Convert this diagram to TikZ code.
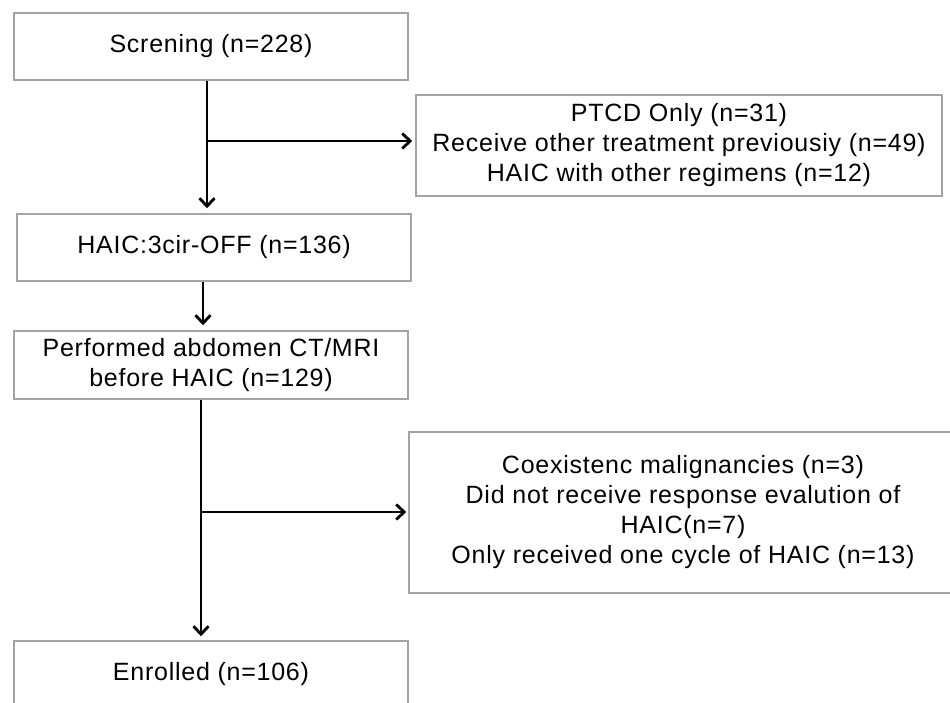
\documentclass[tikz,border=0pt]{standalone}
\usepackage{fontspec}
\setmainfont{Liberation Sans}[LetterSpace=3]
\usetikzlibrary{arrows.meta}
\begin{document}
\begin{tikzpicture}[x=1pt,y=-1pt,
  box/.style={draw=boxgray, line width=1.5pt, inner sep=0pt, align=center,
    font=\fontsize{25}{30}\selectfont, text=black},
  arr/.style={draw=black, line width=2.8pt, -{Straight Barb[length=8pt,width=15pt,line width=2.8pt]}}]
\definecolor{boxgray}{HTML}{A4A4A4}
\useasboundingbox (0,0) rectangle (950,702);
\clip (0,0) rectangle (950,702);
\fill[white] (0,0) rectangle (950,702);
\node[box, minimum width=394pt, minimum height=67pt] (b1) at (211,46.5) {Screning (n=228)};
\node[box, minimum width=526pt, minimum height=101pt] (b2) at (679,145.5) {PTCD Only (n=31)\\Receive other treatment previousiy (n=49)\\HAIC with other regimens (n=12)};
\node[box, minimum width=394pt, minimum height=67pt] (b3) at (214,247.5) {HAIC:3cir-OFF (n=136)};
\node[box, minimum width=394pt, minimum height=68pt] (b4) at (211,365) {Performed abdomen CT/MRI\\before HAIC (n=129)};
\node[box, minimum width=548pt, minimum height=161pt] (b5) at (683,512.5) {Coexistenc malignancies (n=3)\\Did not receive response evalution of\\HAIC(n=7)\\Only received one cycle of HAIC (n=13)};
\node[box, minimum width=394pt, minimum height=67pt] (b6) at (211,674.5) {Enrolled (n=106)};
\coordinate (j1) at (207,141);
\coordinate (k1) at (203,0);
\coordinate (j2) at (201,512);
\draw[arr, shorten >=5pt] (b1.south -| j1) -- (b3.north -| j1);
\draw[arr, shorten >=3pt] (j1) -- (b2.west |- j1);
\draw[arr, shorten >=5pt] (b3.south -| k1) -- (b4.north -| k1);
\draw[arr, shorten >=4pt] (b4.south -| j2) -- (b6.north -| j2);
\draw[arr, shorten >=2pt] (j2) -- (b5.west |- j2);
\end{tikzpicture}
\end{document}
